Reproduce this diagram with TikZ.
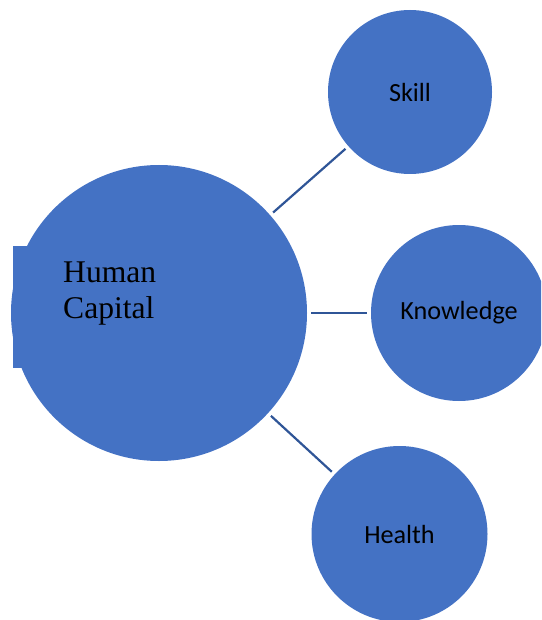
\documentclass[tikz,border=0pt]{standalone}
\usepackage{fontspec}
\setmainfont{Liberation Serif}
\newfontfamily\labelfont{Carlito}
\definecolor{cfill}{HTML}{4472C4}
\definecolor{cline}{HTML}{2F5597}
\begin{document}
\begin{tikzpicture}[x=1pt,y=-1pt,
  bubble/.style={circle,fill=cfill,draw=none,inner sep=0pt,outer sep=4pt,
    font=\labelfont\fontsize{26.2}{30}\selectfont},
  link/.style={draw=cline,line width=2.2pt}]
\useasboundingbox (0,0) rectangle (541,620);
\clip (0,0) rectangle (541,620);
\fill[cfill] (13,246) rectangle (80,368);
\node[bubble,minimum size=296pt] (hc) at (159,313) {};
\node[anchor=base west,align=left,inner sep=0pt,
  font=\fontsize{31.6}{36}\selectfont] (hct) at (63,318) {Human\\Capital};
\node[bubble,minimum size=164pt] (skill) at (410,92) {Skill};
\node[bubble,minimum size=176pt] (know) at (459,313) {\raisebox{-2pt}{Knowledge}};
\node[bubble,minimum size=176pt] (health) at (399.5,534) {Health};
\draw[link] (hc) -- (skill);
\draw[link] (hc) -- (know);
\draw[link] (hc) -- (health);
\end{tikzpicture}
\end{document}
